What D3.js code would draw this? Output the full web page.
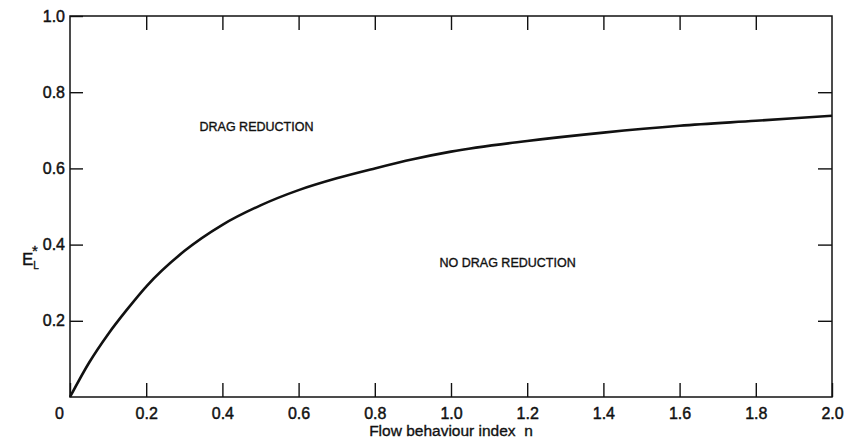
<!DOCTYPE html>
<html>
<head>
<meta charset="utf-8">
<script src="https://cdn.jsdelivr.net/npm/d3@7"></script>
<style>
  body { margin: 0; background: #fff; }
  svg { display: block; font-family: "Liberation Sans", Arial, sans-serif; }
  .axis text { font-size: 16px; fill: #111; stroke: #111; stroke-width: 0.45; }
  .axis line { stroke: #111; stroke-width: 1.4; }
  .axis path { display: none; }
  .label { fill: #111; stroke: #111; stroke-width: 0.35; }
</style>
</head>
<body>
<svg id="chart"></svg>
<script>
// Critical E_L* versus flow behaviour index n
const nValues = [0, 0.05, 0.1, 0.15, 0.2, 0.3, 0.4, 0.5, 0.6, 0.7, 0.8, 0.9, 1.0, 1.2, 1.4, 1.6, 1.8, 2.0];
const eValues = [0, 0.09, 0.165, 0.23, 0.29, 0.383, 0.452, 0.503, 0.543, 0.574, 0.600, 0.624, 0.644, 0.672, 0.694, 0.712, 0.725, 0.738];

const xTicks = [0, 0.2, 0.4, 0.6, 0.8, 1.0, 1.2, 1.4, 1.6, 1.8, 2.0];
const yTicks = [0.2, 0.4, 0.6, 0.8, 1.0];
const topTicks = [0.2, 0.4, 0.6, 0.8, 1.0, 1.2, 1.4, 1.6, 1.8];
const rightTicks = [0.2, 0.4, 0.6, 0.8];

const regionLabels = [
  { text: "DRAG REDUCTION", n: 0.34, e: 0.71 },
  { text: "NO DRAG REDUCTION", n: 0.97, e: 0.352 }
];

// Config
const width = 847;
const height = 444;
const margin = { top: 16, right: 15, bottom: 47, left: 70 };
const innerWidth = width - margin.left - margin.right;
const innerHeight = height - margin.top - margin.bottom;

const svg = d3.select("#chart")
  .attr("width", width)
  .attr("height", height);

const g = svg.append("g")
  .attr("transform", `translate(${margin.left},${margin.top})`);

// Scales
const x = d3.scaleLinear().domain([0, 2]).range([0, innerWidth]);
const y = d3.scaleLinear().domain([0, 1]).range([innerHeight, 0]);

// Axes, ticks pointing inward
g.append("g")
  .attr("class", "axis")
  .attr("transform", `translate(0,${innerHeight})`)
  .call(d3.axisBottom(x)
    .tickValues(xTicks)
    .tickSize(-14)
    .tickSizeOuter(0)
    .tickPadding(8)
    .tickFormat(d => d === 0 ? "0" : d.toFixed(1)))
  .call(ax => ax.selectAll(".tick text").attr("dy", "0.85em"))
  .call(ax => ax.selectAll(".tick").filter(d => d === 0).select("text").attr("dx", -11));

g.append("g")
  .attr("class", "axis")
  .call(d3.axisLeft(y)
    .tickValues(yTicks)
    .tickSize(-13)
    .tickSizeOuter(0)
    .tickPadding(5)
    .tickFormat(d => d.toFixed(1)));

g.append("g")
  .attr("class", "axis")
  .call(d3.axisTop(x)
    .tickValues(topTicks)
    .tickSize(-14)
    .tickSizeOuter(0)
    .tickFormat(""));

g.append("g")
  .attr("class", "axis")
  .attr("transform", `translate(${innerWidth},0)`)
  .call(d3.axisRight(y)
    .tickValues(rightTicks)
    .tickSize(-14)
    .tickSizeOuter(0)
    .tickFormat(""));

// Frame
g.append("rect")
  .attr("x", 0)
  .attr("y", 0)
  .attr("width", innerWidth)
  .attr("height", innerHeight)
  .attr("fill", "none")
  .attr("stroke", "#111")
  .attr("stroke-width", 1.5);

// Curve
const points = nValues.map((n, i) => ({ n, e: eValues[i] }));
const line = d3.line()
  .x(d => x(d.n))
  .y(d => y(d.e))
  .curve(d3.curveMonotoneX);

g.append("path")
  .datum(points)
  .attr("d", line)
  .attr("fill", "none")
  .attr("stroke", "#111")
  .attr("stroke-width", 2.6);

// Region labels
g.selectAll(".region-label")
  .data(regionLabels)
  .join("text")
  .attr("class", "region-label label")
  .attr("x", d => x(d.n))
  .attr("y", d => y(d.e))
  .attr("dy", "0.35em")
  .attr("font-size", 12.5)
  .text(d => d.text);

// Axis titles
svg.append("text")
  .attr("class", "label")
  .attr("x", margin.left + innerWidth / 2)
  .attr("y", 436)
  .attr("text-anchor", "middle")
  .attr("font-size", 15.5)
  .attr("xml:space", "preserve")
  .text("Flow behaviour index  n");

const yTitle = svg.append("text")
  .attr("class", "label")
  .attr("x", 22)
  .attr("y", 265)
  .attr("font-size", 17);
yTitle.append("tspan").text("E");
yTitle.append("tspan").attr("font-size", 10).attr("dy", 4).text("L");
yTitle.append("tspan").attr("font-size", 15).attr("dx", -7).attr("dy", -13).text("*");
</script>
</body>
</html>
